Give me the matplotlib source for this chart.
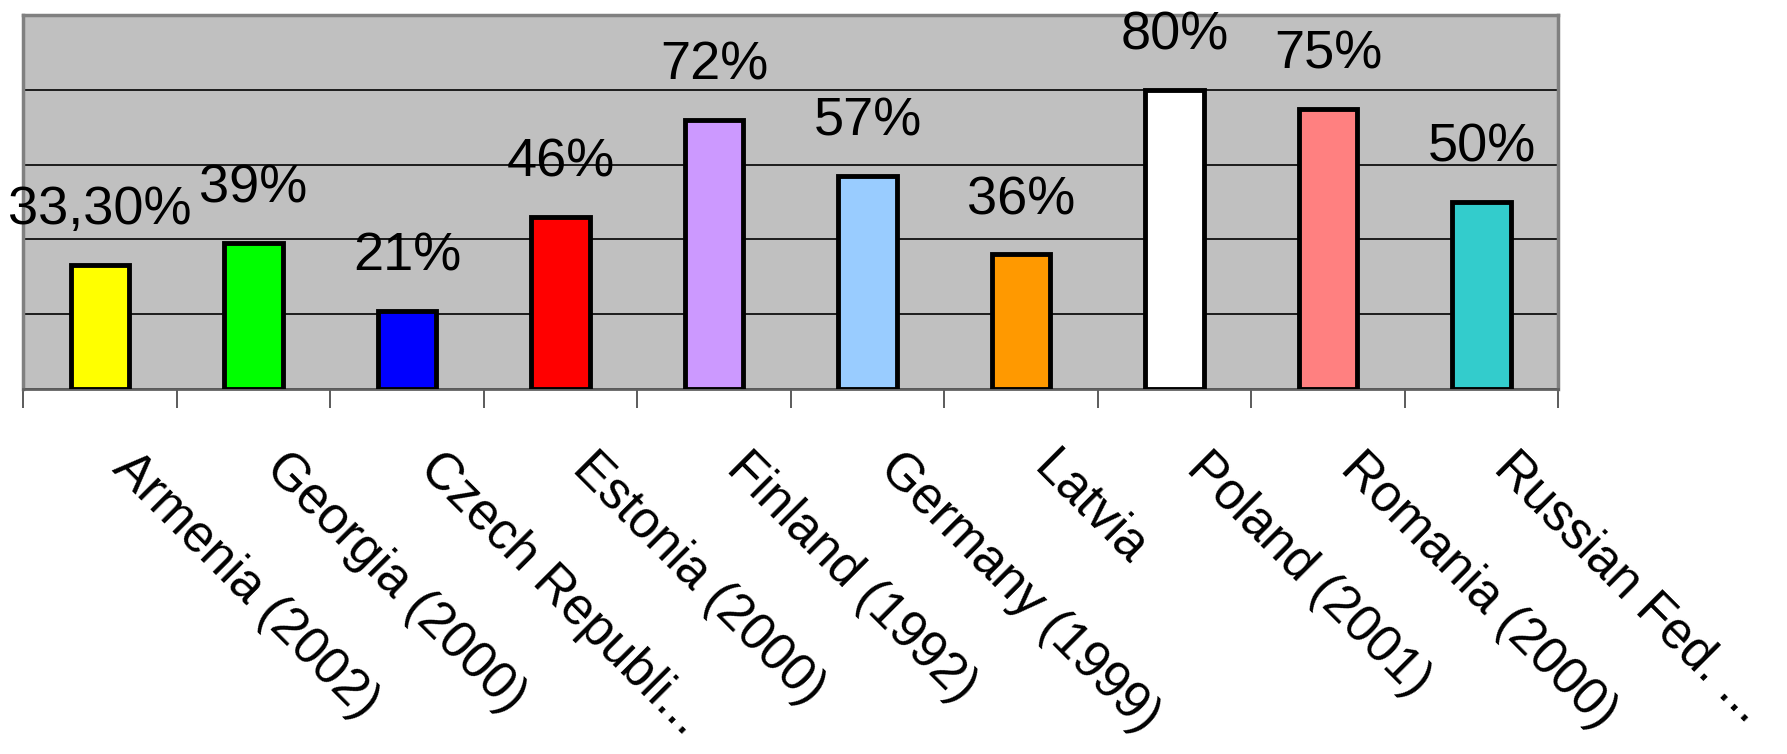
import matplotlib
matplotlib.use("Agg")
import matplotlib.pyplot as plt

countries = ["Armenia (2002)", "Georgia (2000)", "Czech Republi...", "Estonia (2000)",
             "Finland (1992)", "Germany (1999)", "Latvia", "Poland (2001)",
             "Romania (2000)", "Russian Fed. ..."]
values = [33.3, 39, 21, 46, 72, 57, 36, 80, 75, 50]
value_labels = ["33,30%", "39%", "21%", "46%", "72%", "57%", "36%", "80%", "75%", "50%"]
colors = ["#FFFF00", "#00FF00", "#0000FF", "#FF0000", "#CC99FF",
          "#99CCFF", "#FF9900", "#FFFFFF", "#FF8080", "#33CCCC"]

font = ["Liberation Sans", "DejaVu Sans"]

fig = plt.figure(figsize=(17.87, 7.54), dpi=100)
ax = fig.add_axes([0.013, 0.484, 0.859, 0.496])
ax.set_facecolor("#C0C0C0")

x = list(range(len(countries)))
ax.bar(x, values, width=0.38, color=colors, edgecolor="black", linewidth=3.5, zorder=3)

# data labels above bars
for xi, v, lab in zip(x, values, value_labels):
    ax.annotate(lab, (xi, v), xytext=(0, 29), textcoords="offset points",
                ha="center", va="baseline", fontsize=39, family=font, zorder=4)

ax.set_xlim(-0.5, len(countries) - 0.5)
ax.set_ylim(0, 100)

# horizontal gridlines
ax.set_yticks([0, 20, 40, 60, 80, 100])
ax.yaxis.grid(True, color="black", linewidth=1.2, zorder=1)
ax.tick_params(axis="y", left=False, labelleft=False)

# ticks on category boundaries
ax.set_xticks([i - 0.5 for i in range(len(countries) + 1)])
ax.set_xticklabels([])
ax.tick_params(axis="x", direction="out", length=14, width=1.2, color="#404040")

for xi, name in zip(x, countries):
    ax.annotate(name, (xi, 0), xycoords=("data", "axes fraction"),
                xytext=(27, -39), textcoords="offset points",
                rotation=-45, rotation_mode="anchor", ha="left", va="top",
                fontsize=37, family=font)

for side in ["top", "left", "right"]:
    ax.spines[side].set_color("#808080")
    ax.spines[side].set_linewidth(2.5)
ax.spines["bottom"].set_color("#606060")
ax.spines["bottom"].set_linewidth(2)

fig.savefig("out.png", dpi=100, facecolor="white")
